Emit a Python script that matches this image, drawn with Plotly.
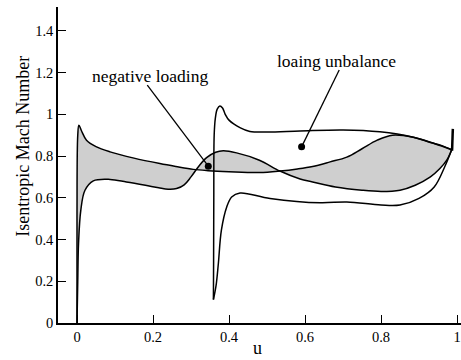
import plotly.graph_objects as go

# ---- data ----
# Blade surface A (upper boundary of shaded area at the leading edge)
u_A = [0.0, 0.0, 0.002, 0.005, 0.012, 0.025, 0.05, 0.087, 0.15, 0.218, 0.26, 0.306, 0.345, 0.40, 0.48,
       0.534, 0.58, 0.62, 0.666, 0.71, 0.75, 0.79, 0.83, 0.885, 0.93, 0.96, 0.986]
M_A = [0.0, 0.5, 0.9, 0.948, 0.92, 0.876, 0.845, 0.82, 0.79, 0.764, 0.75, 0.736, 0.73, 0.725, 0.721,
       0.728, 0.738, 0.75, 0.772, 0.795, 0.835, 0.876, 0.90, 0.89, 0.865, 0.85, 0.83]

# Blade surface B
u_B = [0.0, 0.002, 0.004, 0.01, 0.021, 0.043, 0.087, 0.13, 0.18, 0.215, 0.24, 0.262, 0.282, 0.30, 0.32,
       0.341, 0.365, 0.385, 0.42, 0.48, 0.534, 0.587, 0.62, 0.68, 0.75, 0.80, 0.85, 0.89, 0.93, 0.955,
       0.973, 0.986]
M_B = [0.0, 0.2, 0.38, 0.54, 0.636, 0.681, 0.688, 0.676, 0.66, 0.648, 0.641, 0.644, 0.662, 0.7, 0.75,
       0.792, 0.818, 0.825, 0.815, 0.78, 0.728, 0.69, 0.676, 0.652, 0.636, 0.63, 0.636, 0.66, 0.70, 0.74,
       0.78, 0.83]

# Second profile C, upper branch
u_C_up = [0.359, 0.3595, 0.360, 0.361, 0.364, 0.369, 0.376, 0.383, 0.39, 0.40, 0.43, 0.455, 0.50,
          0.587, 0.70, 0.797, 0.885, 0.94, 0.986]
M_C_up = [0.112, 0.3, 0.6, 0.9, 0.98, 1.025, 1.04, 1.03, 1.0, 0.972, 0.935, 0.918, 0.915,
          0.92, 0.925, 0.916, 0.89, 0.86, 0.83]

# Second profile C, lower branch
u_C_lo = [0.359, 0.366, 0.372, 0.38, 0.394, 0.407, 0.429, 0.508, 0.64, 0.71, 0.80, 0.85, 0.90, 0.94,
          0.968, 0.986]
M_C_lo = [0.112, 0.18, 0.285, 0.445, 0.556, 0.604, 0.623, 0.597, 0.576, 0.58, 0.565, 0.565, 0.597, 0.652,
          0.75, 0.83]

# trailing spike
u_spike = [0.987, 0.989]
M_spike = [0.825, 0.93]

# annotations: label, text position, point position
labels = ["negative loading", "loaing unbalance"]
text_u = [0.192, 0.684]
text_M = [1.183, 1.255]
lead_u0 = [0.185, 0.69]
lead_M0 = [1.14, 1.212]
dot_u = [0.3455, 0.591]
dot_M = [0.7515, 0.844]

x_ticks = [0, 0.2, 0.4, 0.6, 0.8, 1.0]
x_ticktext = ["0", "0.2", "0.4", "0.6", "0.8", "1"]
y_ticks = [0, 0.2, 0.4, 0.6, 0.8, 1.0, 1.2, 1.4]
y_ticktext = ["0", "0.2", "0.4", "0.6", "0.8", "1", "1.2", "1.4"]

FONT = "Liberation Serif"
LW = 1.5
SM = 1.0

fig = go.Figure()

# shaded loading area between A and B
fig.add_trace(go.Scatter(
    x=u_A + u_B[::-1], y=M_A + M_B[::-1],
    mode="lines", fill="toself", fillcolor="#cfcfcf",
    line=dict(width=0, shape="spline", smoothing=SM), hoverinfo="skip"))

for xs, ys in [(u_A, M_A), (u_B, M_B), (u_C_up, M_C_up), (u_C_lo, M_C_lo)]:
    fig.add_trace(go.Scatter(x=xs, y=ys, mode="lines",
                             line=dict(color="black", width=LW, shape="spline", smoothing=SM)))

fig.add_trace(go.Scatter(x=u_spike, y=M_spike, mode="lines", line=dict(color="black", width=2.5)))

# leader lines and dots
for i in range(len(labels)):
    fig.add_trace(go.Scatter(x=[lead_u0[i], dot_u[i]], y=[lead_M0[i], dot_M[i]], mode="lines",
                             line=dict(color="black", width=1.3)))
fig.add_trace(go.Scatter(x=dot_u, y=dot_M, mode="markers",
                         marker=dict(color="black", size=7)))

for i in range(len(labels)):
    fig.add_annotation(x=text_u[i], y=text_M[i], text=labels[i], showarrow=False,
                       font=dict(family=FONT, size=17.5, color="black"),
                       xanchor="center", yanchor="middle")

# axis titles as annotations (paper coords)
fig.add_annotation(xref="paper", yref="paper", x=-0.0868, y=0.558, text="Isentropic Mach Number",
                   textangle=-90, showarrow=False, xanchor="center", yanchor="middle",
                   font=dict(family=FONT, size=18, color="black"))
fig.add_annotation(xref="paper", yref="paper", x=0.496, y=-0.080, text="u",
                   showarrow=False, xanchor="center", yanchor="middle",
                   font=dict(family=FONT, size=18, color="black"))

fig.update_layout(
    width=461, height=360,
    margin=dict(l=58, r=0, t=7, b=37),
    paper_bgcolor="white", plot_bgcolor="white",
    showlegend=False,
    font=dict(family=FONT, color="black"),
    xaxis=dict(range=[-0.05, 1.0105], tickvals=x_ticks, ticktext=x_ticktext,
               showgrid=False, zeroline=False, showline=True, linecolor="black", linewidth=1.5,
               ticks="inside", ticklen=8, tickwidth=1.3, tickcolor="black",
               tickfont=dict(family=FONT, size=14.5, color="black")),
    yaxis=dict(range=[0, 1.514], tickvals=y_ticks, ticktext=y_ticktext,
               showgrid=False, zeroline=False, showline=True, linecolor="black", linewidth=1.5,
               ticks="inside", ticklen=8, tickwidth=1.3, tickcolor="black",
               tickfont=dict(family=FONT, size=14.5, color="black")),
)

fig.write_html("out.html")
